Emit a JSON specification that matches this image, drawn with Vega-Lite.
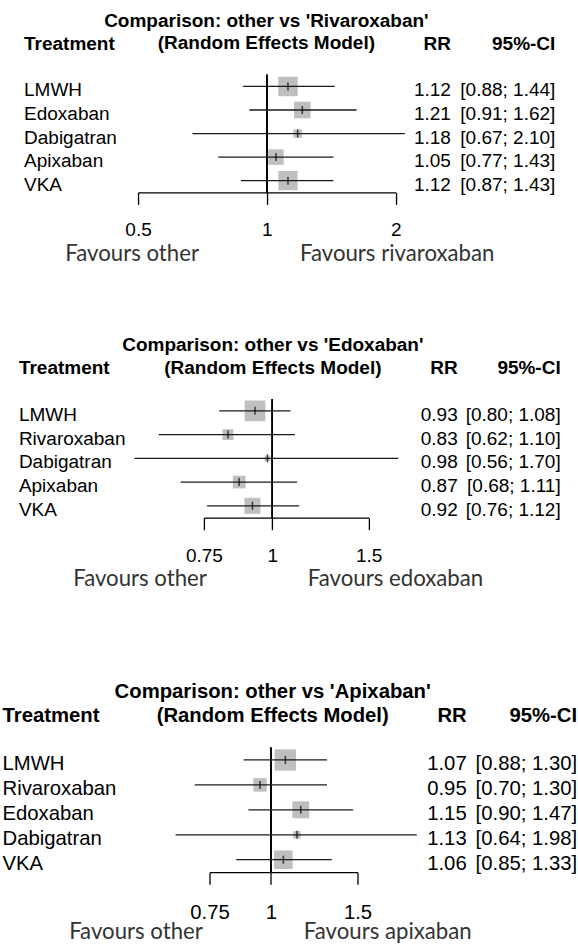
{
  "$schema": "https://vega.github.io/schema/vega-lite/v6.json",
  "padding": {"left": 2.2, "top": 11.7, "right": 0, "bottom": 0},
  "config": {"view": {"stroke": null}, "font": "Liberation Sans"},
  "datasets": {
    "rivaroxaban": [
      {"treatment": "LMWH", "rr": 1.12, "lower": 0.88, "upper": 1.44, "ci": "[0.88; 1.44]", "weight": 63.4},
      {"treatment": "Edoxaban", "rr": 1.21, "lower": 0.91, "upper": 1.62, "ci": "[0.91; 1.62]", "weight": 46.2},
      {"treatment": "Dabigatran", "rr": 1.18, "lower": 0.67, "upper": 2.10, "ci": "[0.67; 2.10]", "weight": 11.8},
      {"treatment": "Apixaban", "rr": 1.05, "lower": 0.77, "upper": 1.43, "ci": "[0.77; 1.43]", "weight": 40.1},
      {"treatment": "VKA", "rr": 1.12, "lower": 0.87, "upper": 1.43, "ci": "[0.87; 1.43]", "weight": 62.2}
    ],
    "edoxaban": [
      {"treatment": "LMWH", "rr": 0.93, "lower": 0.80, "upper": 1.08, "ci": "[0.80; 1.08]", "weight": 170.6},
      {"treatment": "Rivaroxaban", "rr": 0.83, "lower": 0.62, "upper": 1.10, "ci": "[0.62; 1.10]", "weight": 46.7},
      {"treatment": "Dabigatran", "rr": 0.98, "lower": 0.56, "upper": 1.70, "ci": "[0.56; 1.70]", "weight": 12.5},
      {"treatment": "Apixaban", "rr": 0.87, "lower": 0.68, "upper": 1.11, "ci": "[0.68; 1.11]", "weight": 64.0},
      {"treatment": "VKA", "rr": 0.92, "lower": 0.76, "upper": 1.12, "ci": "[0.76; 1.12]", "weight": 102.2}
    ],
    "apixaban": [
      {"treatment": "LMWH", "rr": 1.07, "lower": 0.88, "upper": 1.30, "ci": "[0.88; 1.30]", "weight": 100.9},
      {"treatment": "Rivaroxaban", "rr": 0.95, "lower": 0.70, "upper": 1.30, "ci": "[0.70; 1.30]", "weight": 40.1},
      {"treatment": "Edoxaban", "rr": 1.15, "lower": 0.90, "upper": 1.47, "ci": "[0.90; 1.47]", "weight": 63.8},
      {"treatment": "Dabigatran", "rr": 1.13, "lower": 0.64, "upper": 1.98, "ci": "[0.64; 1.98]", "weight": 12.0},
      {"treatment": "VKA", "rr": 1.06, "lower": 0.85, "upper": 1.33, "ci": "[0.85; 1.33]", "weight": 76.7}
    ],
    "fav_rivaroxaban": [{"left": "Favours other", "right": "Favours rivaroxaban"}],
    "fav_edoxaban": [{"left": "Favours other", "right": "Favours edoxaban"}],
    "fav_apixaban": [{"left": "Favours other", "right": "Favours apixaban"}]
  },
  "spacing": 70.3,
  "center": true,
  "bounds": "full",
  "resolve": {"scale": {"size": "independent"}},
  "vconcat": [
    {
      "spacing": 0,
      "bounds": "flush",
      "resolve": {"scale": {"size": "independent"}},
      "hconcat": [
        {
          "width": 114, "height": 117.7,
          "data": {"name": "rivaroxaban"},
          "title": {"text": "Treatment", "anchor": "start", "frame": "group", "offset": 20.7, "font": "Liberation Sans", "fontSize": 19, "fontWeight": "bold", "color": "#000"},
          "mark": {"type": "text", "align": "left", "baseline": "middle", "dy": 4, "font": "Liberation Sans", "fontSize": 19, "color": "#000"},
          "encoding": {
            "y": {"field": "treatment", "type": "nominal", "sort": null, "axis": null, "scale": {"type": "band", "paddingInner": 0, "paddingOuter": 0}},
            "x": {"value": 0},
            "text": {"field": "treatment"}
          }
        },
        {
          "width": 257.7, "height": 117.7,
          "data": {"name": "rivaroxaban"},
          "title": {"text": "Comparison: other vs 'Rivaroxaban'", "subtitle": "(Random Effects Model)", "anchor": "middle", "frame": "group", "offset": 20.7, "dx": -0.5, "limit": 1000, "font": "Liberation Sans", "fontSize": 19, "fontWeight": "bold", "color": "#000", "subtitleFont": "Liberation Sans", "subtitleFontSize": 19, "subtitleFontWeight": "bold", "subtitleColor": "#000", "subtitlePadding": 3.6},
          "layer": [
            {
              "mark": {"type": "rule", "color": "#000", "strokeWidth": 1.2},
              "encoding": {"x": {"datum": 1, "type": "quantitative"}}
            },
            {
              "mark": {"type": "square", "color": "#bfbfbf", "opacity": 1, "filled": true},
              "encoding": {
                "x": {"field": "rr", "type": "quantitative"},
                "y": {"field": "treatment", "type": "nominal", "sort": null, "axis": null, "scale": {"type": "band", "paddingInner": 0, "paddingOuter": 0}},
                "size": {"field": "weight", "type": "quantitative", "scale": {"domain": [0, 63.4], "range": [0, 380]}, "legend": null}
              }
            },
            {
              "mark": {"type": "rule", "color": "#1a1a1a", "strokeWidth": 1.3},
              "encoding": {
                "x": {"field": "lower", "type": "quantitative", "scale": {"type": "log", "domain": [0.5, 2], "nice": false, "zero": false},
                  "axis": {"values": [0.5, 1, 2], "format": "~g", "title": null, "grid": false, "domainColor": "#000", "domainWidth": 1.3, "tickColor": "#000", "tickWidth": 1.3, "tickSize": 12, "labelFont": "Liberation Sans", "labelFontSize": 19, "labelColor": "#000", "labelPadding": 16.3, "labelFlush": false, "labelOverlap": false}},
                "x2": {"field": "upper"},
                "y": {"field": "treatment", "type": "nominal", "sort": null, "axis": null, "scale": {"type": "band", "paddingInner": 0, "paddingOuter": 0}}
              }
            },
            {
              "mark": {"type": "tick", "color": "#000", "thickness": 1.5, "size": 8, "orient": "vertical"},
              "encoding": {
                "x": {"field": "rr", "type": "quantitative"},
                "y": {"field": "treatment", "type": "nominal", "sort": null, "axis": null, "scale": {"type": "band", "paddingInner": 0, "paddingOuter": 0}}
              }
            },
            {
              "data": {"name": "fav_rivaroxaban"},
              "mark": {"type": "text", "align": "right", "baseline": "alphabetic", "dx": -67.9, "dy": 68.3, "font": "Lato", "fontSize": 22.2, "color": "#333"},
              "encoding": {"x": {"datum": 1, "type": "quantitative"}, "y": {"value": "height"}, "text": {"field": "left"}}
            },
            {
              "data": {"name": "fav_rivaroxaban"},
              "mark": {"type": "text", "align": "left", "baseline": "alphabetic", "dx": 33.1, "dy": 68.3, "font": "Lato", "fontSize": 22.2, "color": "#333"},
              "encoding": {"x": {"datum": 1, "type": "quantitative"}, "y": {"value": "height"}, "text": {"field": "right"}}
            }
          ]
        },
        {
          "width": 54.8, "height": 117.7,
          "data": {"name": "rivaroxaban"},
          "title": {"text": "RR", "anchor": "end", "frame": "group", "offset": 20.7, "font": "Liberation Sans", "fontSize": 19, "fontWeight": "bold", "color": "#000"},
          "mark": {"type": "text", "align": "right", "baseline": "middle", "dy": 4, "font": "Liberation Sans", "fontSize": 19, "color": "#000"},
          "encoding": {
            "y": {"field": "treatment", "type": "nominal", "sort": null, "axis": null, "scale": {"type": "band", "paddingInner": 0, "paddingOuter": 0}},
            "x": {"value": "width"},
            "text": {"field": "rr", "type": "quantitative", "format": ".2f"}
          }
        },
        {
          "width": 104.3, "height": 117.7,
          "data": {"name": "rivaroxaban"},
          "title": {"text": "95%-CI", "anchor": "end", "frame": "group", "offset": 20.7, "font": "Liberation Sans", "fontSize": 19, "fontWeight": "bold", "color": "#000"},
          "mark": {"type": "text", "align": "right", "baseline": "middle", "dy": 4, "font": "Liberation Sans", "fontSize": 19, "color": "#000"},
          "encoding": {
            "y": {"field": "treatment", "type": "nominal", "sort": null, "axis": null, "scale": {"type": "band", "paddingInner": 0, "paddingOuter": 0}},
            "x": {"value": "width"},
            "text": {"field": "ci"}
          }
        }
      ]
    },
    {
      "spacing": 91.5,
      "center": true,
      "bounds": "full",
      "resolve": {"scale": {"size": "independent"}},
      "vconcat": [
        {
          "spacing": 0,
          "bounds": "flush",
          "resolve": {"scale": {"size": "independent"}},
          "hconcat": [
            {
              "width": 184.5, "height": 118.7,
              "data": {"name": "edoxaban"},
              "title": {"text": "Treatment", "anchor": "start", "frame": "group", "offset": 20.6, "font": "Liberation Sans", "fontSize": 19, "fontWeight": "bold", "color": "#000"},
              "mark": {"type": "text", "align": "left", "baseline": "middle", "dy": 4, "font": "Liberation Sans", "fontSize": 19, "color": "#000"},
              "encoding": {
                "y": {"field": "treatment", "type": "nominal", "sort": null, "axis": null, "scale": {"type": "band", "paddingInner": 0, "paddingOuter": 0}},
                "x": {"value": 0},
                "text": {"field": "treatment"}
              }
            },
            {
              "width": 164.7, "height": 118.7,
              "data": {"name": "edoxaban"},
              "title": {"text": "Comparison: other vs 'Edoxaban'", "subtitle": "(Random Effects Model)", "anchor": "middle", "frame": "group", "offset": 20.6, "dx": -13.4, "limit": 1000, "font": "Liberation Sans", "fontSize": 19, "fontWeight": "bold", "color": "#000", "subtitleFont": "Liberation Sans", "subtitleFontSize": 19, "subtitleFontWeight": "bold", "subtitleColor": "#000", "subtitlePadding": 3.6},
              "layer": [
                {
                  "mark": {"type": "rule", "color": "#000", "strokeWidth": 1.2},
                  "encoding": {"x": {"datum": 1, "type": "quantitative"}}
                },
                {
                  "mark": {"type": "square", "color": "#bfbfbf", "opacity": 1, "filled": true},
                  "encoding": {
                    "x": {"field": "rr", "type": "quantitative"},
                    "y": {"field": "treatment", "type": "nominal", "sort": null, "axis": null, "scale": {"type": "band", "paddingInner": 0, "paddingOuter": 0}},
                    "size": {"field": "weight", "type": "quantitative", "scale": {"domain": [0, 170.6], "range": [0, 428]}, "legend": null}
                  }
                },
                {
                  "mark": {"type": "rule", "color": "#1a1a1a", "strokeWidth": 1.3},
                  "encoding": {
                    "x": {"field": "lower", "type": "quantitative", "scale": {"type": "log", "domain": [0.75, 1.5], "nice": false, "zero": false},
                      "axis": {"values": [0.75, 1, 1.5], "format": "~g", "title": null, "grid": false, "domainColor": "#000", "domainWidth": 1.3, "tickColor": "#000", "tickWidth": 1.3, "tickSize": 12, "labelFont": "Liberation Sans", "labelFontSize": 19, "labelColor": "#000", "labelPadding": 16.5, "labelFlush": false, "labelOverlap": false}},
                    "x2": {"field": "upper"},
                    "y": {"field": "treatment", "type": "nominal", "sort": null, "axis": null, "scale": {"type": "band", "paddingInner": 0, "paddingOuter": 0}}
                  }
                },
                {
                  "mark": {"type": "tick", "color": "#000", "thickness": 1.5, "size": 8, "orient": "vertical"},
                  "encoding": {
                    "x": {"field": "rr", "type": "quantitative"},
                    "y": {"field": "treatment", "type": "nominal", "sort": null, "axis": null, "scale": {"type": "band", "paddingInner": 0, "paddingOuter": 0}}
                  }
                },
                {
                  "data": {"name": "fav_edoxaban"},
                  "mark": {"type": "text", "align": "right", "baseline": "alphabetic", "dx": -65.4, "dy": 68, "font": "Lato", "fontSize": 22.2, "color": "#333"},
                  "encoding": {"x": {"datum": 1, "type": "quantitative"}, "y": {"value": "height"}, "text": {"field": "left"}}
                },
                {
                  "data": {"name": "fav_edoxaban"},
                  "mark": {"type": "text", "align": "left", "baseline": "alphabetic", "dx": 35.6, "dy": 68, "font": "Lato", "fontSize": 22.2, "color": "#333"},
                  "encoding": {"x": {"datum": 1, "type": "quantitative"}, "y": {"value": "height"}, "text": {"field": "right"}}
                }
              ]
            },
            {
              "width": 88.8, "height": 118.7,
              "data": {"name": "edoxaban"},
              "title": {"text": "RR", "anchor": "end", "frame": "group", "offset": 20.6, "font": "Liberation Sans", "fontSize": 19, "fontWeight": "bold", "color": "#000"},
              "mark": {"type": "text", "align": "right", "baseline": "middle", "dy": 4, "font": "Liberation Sans", "fontSize": 19, "color": "#000"},
              "encoding": {
                "y": {"field": "treatment", "type": "nominal", "sort": null, "axis": null, "scale": {"type": "band", "paddingInner": 0, "paddingOuter": 0}},
                "x": {"value": "width"},
                "text": {"field": "rr", "type": "quantitative", "format": ".2f"}
              }
            },
            {
              "width": 102.8, "height": 118.7,
              "data": {"name": "edoxaban"},
              "title": {"text": "95%-CI", "anchor": "end", "frame": "group", "offset": 20.6, "font": "Liberation Sans", "fontSize": 19, "fontWeight": "bold", "color": "#000"},
              "mark": {"type": "text", "align": "right", "baseline": "middle", "dy": 4, "font": "Liberation Sans", "fontSize": 19, "color": "#000"},
              "encoding": {
                "y": {"field": "treatment", "type": "nominal", "sort": null, "axis": null, "scale": {"type": "band", "paddingInner": 0, "paddingOuter": 0}},
                "x": {"value": "width"},
                "text": {"field": "ci"}
              }
            }
          ]
        },
        {
          "spacing": 0,
          "bounds": "flush",
          "resolve": {"scale": {"size": "independent"}},
          "hconcat": [
            {
              "width": 206.2, "height": 124.7,
              "data": {"name": "apixaban"},
              "title": {"text": "Treatment", "anchor": "start", "frame": "group", "offset": 21, "font": "Liberation Sans", "fontSize": 20.3, "fontWeight": "bold", "color": "#000"},
              "mark": {"type": "text", "align": "left", "baseline": "middle", "dy": 4.5, "font": "Liberation Sans", "fontSize": 20.3, "color": "#000"},
              "encoding": {
                "y": {"field": "treatment", "type": "nominal", "sort": null, "axis": null, "scale": {"type": "band", "paddingInner": 0, "paddingOuter": 0}},
                "x": {"value": 0},
                "text": {"field": "treatment"}
              }
            },
            {
              "width": 148, "height": 124.7,
              "data": {"name": "apixaban"},
              "title": {"text": "Comparison: other vs 'Apixaban'", "subtitle": "(Random Effects Model)", "anchor": "middle", "frame": "group", "offset": 21, "dx": -10.8, "limit": 1000, "font": "Liberation Sans", "fontSize": 20.3, "fontWeight": "bold", "color": "#000", "subtitleFont": "Liberation Sans", "subtitleFontSize": 20.3, "subtitleFontWeight": "bold", "subtitleColor": "#000", "subtitlePadding": 3.7},
              "layer": [
                {
                  "mark": {"type": "rule", "color": "#000", "strokeWidth": 1.2},
                  "encoding": {"x": {"datum": 1, "type": "quantitative"}}
                },
                {
                  "mark": {"type": "square", "color": "#bfbfbf", "opacity": 1, "filled": true},
                  "encoding": {
                    "x": {"field": "rr", "type": "quantitative"},
                    "y": {"field": "treatment", "type": "nominal", "sort": null, "axis": null, "scale": {"type": "band", "paddingInner": 0, "paddingOuter": 0}},
                    "size": {"field": "weight", "type": "quantitative", "scale": {"domain": [0, 100.9], "range": [0, 454]}, "legend": null}
                  }
                },
                {
                  "mark": {"type": "rule", "color": "#1a1a1a", "strokeWidth": 1.3},
                  "encoding": {
                    "x": {"field": "lower", "type": "quantitative", "scale": {"type": "log", "domain": [0.75, 1.5], "nice": false, "zero": false},
                      "axis": {"values": [0.75, 1, 1.5], "format": "~g", "title": null, "grid": false, "domainColor": "#000", "domainWidth": 1.3, "tickColor": "#000", "tickWidth": 1.3, "tickSize": 12, "labelFont": "Liberation Sans", "labelFontSize": 20.3, "labelColor": "#000", "labelPadding": 18, "labelFlush": false, "labelOverlap": false}},
                    "x2": {"field": "upper"},
                    "y": {"field": "treatment", "type": "nominal", "sort": null, "axis": null, "scale": {"type": "band", "paddingInner": 0, "paddingOuter": 0}}
                  }
                },
                {
                  "mark": {"type": "tick", "color": "#000", "thickness": 1.5, "size": 8, "orient": "vertical"},
                  "encoding": {
                    "x": {"field": "rr", "type": "quantitative"},
                    "y": {"field": "treatment", "type": "nominal", "sort": null, "axis": null, "scale": {"type": "band", "paddingInner": 0, "paddingOuter": 0}}
                  }
                },
                {
                  "data": {"name": "fav_apixaban"},
                  "mark": {"type": "text", "align": "right", "baseline": "alphabetic", "dx": -68.1, "dy": 67, "font": "Lato", "fontSize": 22.2, "color": "#333"},
                  "encoding": {"x": {"datum": 1, "type": "quantitative"}, "y": {"value": "height"}, "text": {"field": "left"}}
                },
                {
                  "data": {"name": "fav_apixaban"},
                  "mark": {"type": "text", "align": "left", "baseline": "alphabetic", "dx": 32.9, "dy": 67, "font": "Lato", "fontSize": 22.2, "color": "#333"},
                  "encoding": {"x": {"datum": 1, "type": "quantitative"}, "y": {"value": "height"}, "text": {"field": "right"}}
                }
              ]
            },
            {
              "width": 109.2, "height": 124.7,
              "data": {"name": "apixaban"},
              "title": {"text": "RR", "anchor": "end", "frame": "group", "offset": 21, "font": "Liberation Sans", "fontSize": 20.3, "fontWeight": "bold", "color": "#000"},
              "mark": {"type": "text", "align": "right", "baseline": "middle", "dy": 4.5, "font": "Liberation Sans", "fontSize": 20.3, "color": "#000"},
              "encoding": {
                "y": {"field": "treatment", "type": "nominal", "sort": null, "axis": null, "scale": {"type": "band", "paddingInner": 0, "paddingOuter": 0}},
                "x": {"value": "width"},
                "text": {"field": "rr", "type": "quantitative", "format": ".2f"}
              }
            },
            {
              "width": 109.6, "height": 124.7,
              "data": {"name": "apixaban"},
              "title": {"text": "95%-CI", "anchor": "end", "frame": "group", "offset": 21, "font": "Liberation Sans", "fontSize": 20.3, "fontWeight": "bold", "color": "#000"},
              "mark": {"type": "text", "align": "right", "baseline": "middle", "dy": 4.5, "font": "Liberation Sans", "fontSize": 20.3, "color": "#000"},
              "encoding": {
                "y": {"field": "treatment", "type": "nominal", "sort": null, "axis": null, "scale": {"type": "band", "paddingInner": 0, "paddingOuter": 0}},
                "x": {"value": "width"},
                "text": {"field": "ci"}
              }
            }
          ]
        }
      ]
    }
  ]
}
